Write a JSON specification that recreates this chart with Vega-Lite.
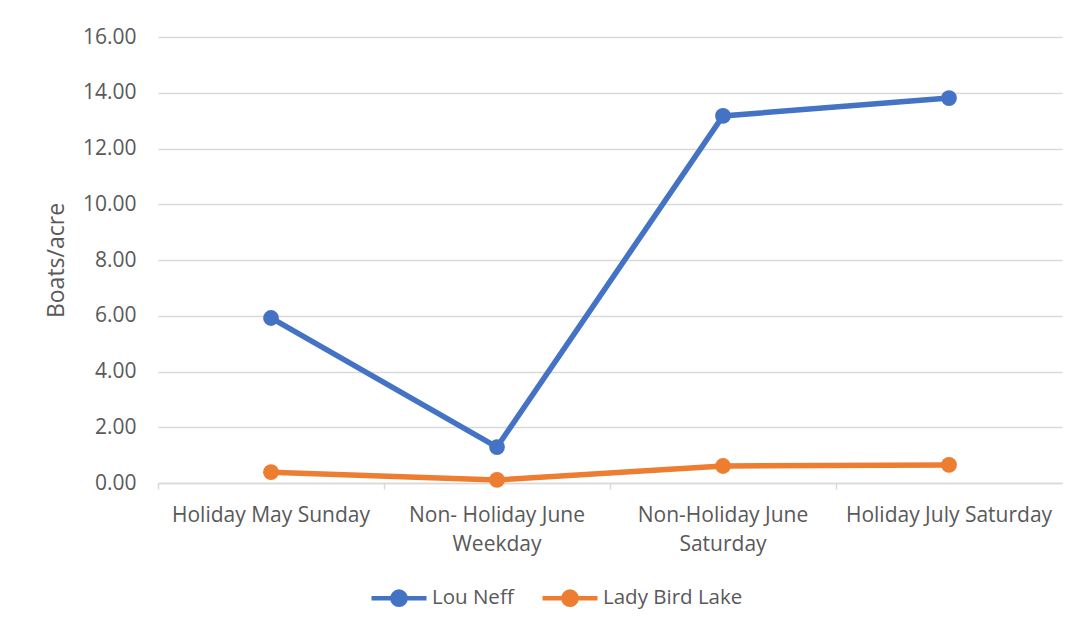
{
  "$schema": "https://vega.github.io/schema/vega-lite/v6.json",
  "width": 904,
  "height": 446,
  "autosize": {"type": "none"},
  "padding": {"left": 158, "top": 37, "right": 21, "bottom": 147},
  "background": "white",
  "config": {
    "font": "Open Sans",
    "view": {"stroke": null},
    "axis": {"labelColor": "#595959", "titleColor": "#595959", "labelFont": "Open Sans", "titleFont": "Open Sans", "titleFontWeight": "normal"}
  },
  "data": {
    "values": [
      {"day": "Holiday May Sunday", "site": "Lou Neff", "value": 5.92},
      {"day": "Non- Holiday June Weekday", "site": "Lou Neff", "value": 1.29},
      {"day": "Non-Holiday June Saturday", "site": "Lou Neff", "value": 13.17},
      {"day": "Holiday July Saturday", "site": "Lou Neff", "value": 13.81},
      {"day": "Holiday May Sunday", "site": "Lady Bird Lake", "value": 0.39},
      {"day": "Non- Holiday June Weekday", "site": "Lady Bird Lake", "value": 0.11},
      {"day": "Non-Holiday June Saturday", "site": "Lady Bird Lake", "value": 0.61},
      {"day": "Holiday July Saturday", "site": "Lady Bird Lake", "value": 0.65}
    ]
  },
  "encoding": {
    "x": {
      "field": "day",
      "type": "nominal",
      "sort": null,
      "scale": {"type": "band", "paddingInner": 0, "paddingOuter": 0},
      "axis": {
        "title": null,
        "labelAngle": 0,
        "labelFontSize": 21,
        "labelPadding": 15,
        "labelLineHeight": 29,
        "labelLimit": 400,
        "labelExpr": "datum.label == 'Non- Holiday June Weekday' ? ['Non- Holiday June', 'Weekday'] : datum.label == 'Non-Holiday June Saturday' ? ['Non-Holiday June', 'Saturday'] : datum.label",
        "bandPosition": 0,
        "ticks": true,
        "tickSize": 6,
        "tickColor": "#D9D9D9",
        "tickWidth": 1.5,
        "domainColor": "#D9D9D9",
        "domainWidth": 1.5,
        "grid": false
      }
    },
    "y": {
      "field": "value",
      "type": "quantitative",
      "scale": {"domain": [0, 16], "nice": false},
      "axis": {
        "title": "Boats/acre",
        "titleFontSize": 23,
        "titlePadding": 14,
        "values": [0, 2, 4, 6, 8, 10, 12, 14, 16],
        "format": ".2f",
        "labelFontSize": 21,
        "labelPadding": 22,
        "ticks": false,
        "domain": false,
        "gridColor": "#D9D9D9",
        "gridWidth": 1.5
      }
    },
    "color": {
      "field": "site",
      "type": "nominal",
      "scale": {"domain": ["Lou Neff", "Lady Bird Lake"], "range": ["#4472C4", "#ED7D31"]},
      "legend": {
        "title": null,
        "orient": "none",
        "direction": "horizontal",
        "legendX": 211,
        "legendY": 531,
        "symbolType": "M-1,0H1M0.24,0A0.24,0.24,0,1,1,-0.24,0A0.24,0.24,0,1,1,0.24,0Z",
        "symbolSize": 3025,
        "symbolStrokeWidth": 4.5,
        "labelFontSize": 20.5,
        "labelColor": "#595959",
        "labelFont": "Open Sans",
        "labelOffset": 3,
        "columnPadding": 19
      }
    }
  },
  "layer": [
    {"mark": {"type": "line", "strokeWidth": 5.5, "strokeCap": "round"}},
    {"mark": {"type": "point", "filled": true, "size": 250, "opacity": 1}}
  ]
}
